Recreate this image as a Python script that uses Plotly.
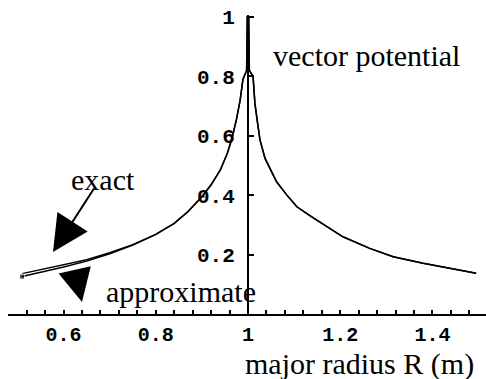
import plotly.graph_objects as go

# Major radius R (m)
R = [0.51, 0.55, 0.60, 0.65, 0.70, 0.75, 0.80, 0.84, 0.87, 0.90, 0.92, 0.94,
     0.955, 0.965, 0.975, 0.983, 0.989, 0.997, 0.9985, 1.0015, 1.003, 1.011,
     1.015, 1.02, 1.026, 1.037, 1.051, 1.062, 1.084, 1.106, 1.135, 1.17, 1.206,
     1.264, 1.315, 1.38, 1.437, 1.495]

# Normalised vector potential, approximate expression
A_approx = [0.126, 0.140, 0.158, 0.178, 0.203, 0.232, 0.268, 0.305, 0.345, 0.395,
            0.435, 0.485, 0.54, 0.59, 0.655, 0.72, 0.79, 0.82, 1.0, 1.0, 0.82,
            0.80, 0.709, 0.65, 0.586, 0.524, 0.479, 0.445, 0.401, 0.361, 0.33,
            0.294, 0.26, 0.221, 0.193, 0.171, 0.154, 0.137]

# Exact solution: departs from the approximation only on the inboard side
A_exact = [0.136, 0.149, 0.165, 0.183, 0.206, 0.233, 0.268, 0.305, 0.345, 0.395,
           0.435, 0.485, 0.54, 0.59, 0.655, 0.72, 0.79, 0.82, 1.0, 1.0, 0.82,
           0.80, 0.709, 0.65, 0.586, 0.524, 0.479, 0.445, 0.401, 0.361, 0.33,
           0.294, 0.26, 0.221, 0.193, 0.171, 0.154, 0.137]

x_tick_vals = [0.6, 0.8, 1.0, 1.2, 1.4]
x_tick_text = ["0.6", "0.8", "1", "1.2", "1.4"]
y_tick_vals = [0.2, 0.4, 0.6, 0.8, 1.0]
y_tick_text = ["0.2", "0.4", "0.6", "0.8", "1"]

W, H = 486, 379
ML, MR, MT, MB = 8, 0, 15, 65
X_RANGE = [0.4794, 1.5163]
Y_RANGE = [0.0, 1.0067]
AXIS_X = 1.0  # vertical axis crosses at R = 1

SERIF = "Liberation Serif"
MONO = "Liberation Mono"


def px(x):
    """Horizontal pixel -> paper coordinate."""
    return (x - ML) / (W - ML - MR)


def py(y):
    """Vertical pixel (from top) -> paper coordinate."""
    return (H - MB - y) / (H - MT - MB)


fig = go.Figure()

fig.add_trace(go.Scatter(
    x=R, y=A_exact, mode="lines", name="exact",
    line=dict(color="black", width=1.5),
))
fig.add_trace(go.Scatter(
    x=R, y=A_approx, mode="lines+markers", name="approximate",
    line=dict(color="black", width=1.5),
    marker=dict(symbol="square", color="black",
                size=[5] + [0] * (len(R) - 1)),
))

label_font = dict(family=SERIF, size=30, color="black")
annotations = [
    dict(text="vector potential", x=px(366), y=py(55)),
    dict(text="exact", x=px(103), y=py(179)),
    dict(text="approximate", x=px(181), y=py(291)),
    dict(text="major radius R (m)", x=px(359), y=py(364)),
]
for a in annotations:
    a.update(xref="paper", yref="paper", showarrow=False,
             xanchor="center", yanchor="middle", font=label_font)

# arrow pointing at the exact curve
annotations.append(dict(
    text="", xref="paper", yref="paper", x=px(53), y=py(252),
    ax=42, ay=-65, showarrow=True, arrowhead=2, arrowsize=3.6,
    arrowwidth=2, arrowcolor="black",
))
# arrowhead marking the approximate curve
annotations.append(dict(
    text="", xref="paper", yref="paper", x=px(82), y=py(302),
    ax=-5, ay=-22, showarrow=True, arrowhead=2, arrowsize=3.3,
    arrowwidth=2, arrowcolor="black",
))

fig.update_layout(
    width=W, height=H, autosize=False,
    margin=dict(l=ML, r=MR, t=MT, b=MB, pad=0),
    paper_bgcolor="white", plot_bgcolor="white",
    showlegend=False,
    annotations=annotations,
    xaxis=dict(
        range=X_RANGE, showgrid=False, zeroline=False,
        showline=True, linecolor="black", linewidth=2,
        tickmode="array", tickvals=x_tick_vals, ticktext=x_tick_text,
        ticks="inside", ticklen=4, tickwidth=1.5, tickcolor="black",
        minor=dict(dtick=0.04, tick0=0, ticks="inside", ticklen=4,
                   tickwidth=1.5, tickcolor="black"),
        tickfont=dict(family=MONO, size=20, color="black", weight="bold"),
        ticklabelstandoff=1,
    ),
    yaxis=dict(
        range=Y_RANGE, showgrid=False, zeroline=False,
        anchor="free",
        position=(AXIS_X - X_RANGE[0]) / (X_RANGE[1] - X_RANGE[0]),
        showline=True, linecolor="black", linewidth=2,
        tickmode="array", tickvals=y_tick_vals, ticktext=y_tick_text,
        ticks="inside", ticklen=5, tickwidth=1.5, tickcolor="black",
        tickfont=dict(family=MONO, size=21, color="black", weight="bold"),
        ticklabelstandoff=8,
    ),
)

fig.write_html("out.html")
